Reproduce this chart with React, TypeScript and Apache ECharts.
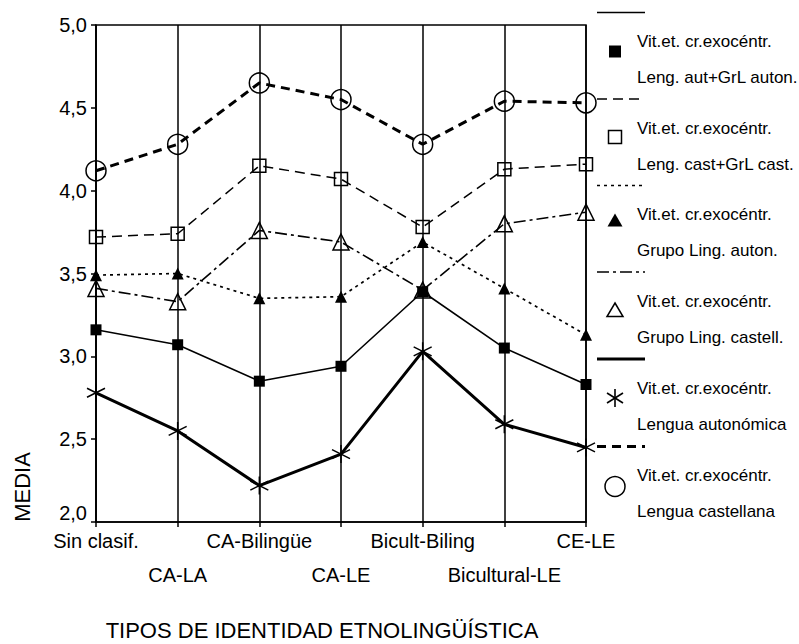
import React, { useEffect, useRef } from "react";
import * as echarts from "echarts";

const categories = ["Sin clasif.", "CA-LA", "CA-Bilingüe", "CA-LE", "Bicult-Biling", "Bicultural-LE", "CE-LE"];
const yTickLabels = ["2,0", "2,5", "3,0", "3,5", "4,0", "4,5", "5,0"];

const lengAutGrlAuton = [3.16, 3.07, 2.85, 2.94, 3.39, 3.05, 2.83];
const lengCastGrlCast = [3.72, 3.74, 4.15, 4.07, 3.78, 4.13, 4.16];
const grupoLingAuton = [3.49, 3.5, 3.35, 3.36, 3.69, 3.41, 3.13];
const grupoLingCastell = [3.41, 3.33, 3.76, 3.69, 3.4, 3.8, 3.87];
const lenguaAutonomica = [2.78, 2.55, 2.22, 2.41, 3.03, 2.59, 2.45];
const lenguaCastellana = [4.12, 4.28, 4.65, 4.55, 4.28, 4.54, 4.53];

const legendLine1 = "Vit.et. cr.exocéntr.";
const legendLine2 = [
  "Leng. aut+GrL auton.",
  "Leng. cast+GrL cast.",
  "Grupo Ling. auton.",
  "Grupo Ling. castell.",
  "Lengua autonómica",
  "Lengua castellana",
];

const xTitle = "TIPOS DE IDENTIDAD ETNOLINGÜÍSTICA";
const yTitle = "MEDIA";

const FONT = "'Liberation Sans', Arial, Helvetica, sans-serif";
const ASTERISK = "path://M10,0L10,20M1.34,5L18.66,15M1.34,15L18.66,5";

export default function App() {
  const ref = useRef<HTMLDivElement>(null);

  useEffect(() => {
    if (!ref.current) return;
    const chart = echarts.init(ref.current, undefined, { renderer: "svg" });

    const blk = "#000";
    const lineStyles: any[] = [
      { width: 1.6, type: "solid" },
      { width: 1.5, type: [10, 6] },
      { width: 1.7, type: [3, 4] },
      { width: 1.6, type: [12, 4, 3, 4] },
      { width: 3, type: "solid" },
      { width: 3, type: [9, 6] },
    ];

    const mk = (name: string, data: number[], idx: number, symbol: string, size: number, filled: boolean) => ({
      name,
      type: "line",
      data,
      symbol,
      symbolSize: size,
      lineStyle: { color: blk, ...lineStyles[idx] },
      itemStyle: filled
        ? { color: blk, borderColor: blk, borderWidth: 0 }
        : { color: "rgba(0,0,0,0)", borderColor: blk, borderWidth: 1.5 },
      z: 3,
    });

    const series = [
      mk(legendLine2[0], lengAutGrlAuton, 0, "rect", 11, true),
      mk(legendLine2[1], lengCastGrlCast, 1, "rect", 13, false),
      mk(legendLine2[2], grupoLingAuton, 2, "triangle", 12, true),
      mk(legendLine2[3], grupoLingCastell, 3, "triangle", 16, false),
      mk(legendLine2[4], lenguaAutonomica, 4, ASTERISK, 18, false),
      mk(legendLine2[5], lenguaCastellana, 5, "circle", 20, false),
    ];

    // legend drawn as graphic (peculiar layout: line sample above symbol + two-line label)
    const bases = [12.5, 99, 185.5, 272, 359, 446.5];
    const symOff = [39, 38, 35, 38, 39, 40];
    const graphics: any[] = [];
    bases.forEach((b, i) => {
      const ls = lineStyles[i];
      graphics.push({
        type: "line",
        shape: { x1: 597, y1: b, x2: 645, y2: b },
        style: { stroke: blk, lineWidth: ls.width, lineDash: Array.isArray(ls.type) ? ls.type : null },
      });
      const sy = b + symOff[i];
      const sx = 615;
      if (i === 0) {
        graphics.push({ type: "rect", shape: { x: sx - 6, y: sy - 6, width: 12, height: 12 }, style: { fill: blk } });
      } else if (i === 1) {
        graphics.push({ type: "rect", shape: { x: sx - 6.5, y: sy - 6.5, width: 13, height: 13 }, style: { fill: "none", stroke: blk, lineWidth: 1.5 } });
      } else if (i === 2) {
        graphics.push({ type: "polygon", shape: { points: [[sx, sy - 7], [sx + 7.5, sy + 6], [sx - 7.5, sy + 6]] }, style: { fill: blk } });
      } else if (i === 3) {
        graphics.push({ type: "polygon", shape: { points: [[sx, sy - 7], [sx + 8, sy + 6.5], [sx - 8, sy + 6.5]] }, style: { fill: "none", stroke: blk, lineWidth: 1.5 } });
      } else if (i === 4) {
        graphics.push({ type: "line", shape: { x1: sx, y1: sy - 9, x2: sx, y2: sy + 9 }, style: { stroke: blk, lineWidth: 1.6 } });
        graphics.push({ type: "line", shape: { x1: sx - 8, y1: sy - 5, x2: sx + 8, y2: sy + 5 }, style: { stroke: blk, lineWidth: 1.6 } });
        graphics.push({ type: "line", shape: { x1: sx - 8, y1: sy + 5, x2: sx + 8, y2: sy - 5 }, style: { stroke: blk, lineWidth: 1.6 } });
      } else {
        graphics.push({ type: "circle", shape: { cx: sx, cy: sy, r: 10 }, style: { fill: "none", stroke: blk, lineWidth: 1.5 } });
      }
      graphics.push({
        type: "text",
        x: 637,
        y: b + 29,
        style: { text: legendLine1, font: `17px ${FONT}`, fill: blk, verticalAlign: "middle", align: "left" },
      });
      graphics.push({
        type: "text",
        x: 637,
        y: b + 65,
        style: { text: legendLine2[i], font: `17px ${FONT}`, fill: blk, verticalAlign: "middle", align: "left" },
      });
    });

    graphics.push({
      type: "text",
      x: 322,
      y: 630,
      style: { text: xTitle, font: `22px ${FONT}`, fill: blk, align: "center", verticalAlign: "middle" },
    });
    graphics.push({
      type: "text",
      x: 22,
      y: 487,
      rotation: Math.PI / 2,
      style: { text: yTitle, font: `22px ${FONT}`, fill: blk, align: "center", verticalAlign: "middle" },
    });

    chart.setOption({
      animation: false,
      backgroundColor: "#fff",
      grid: {
        left: 96,
        right: 213,
        top: 25,
        bottom: 122,
        show: true,
        borderColor: blk,
        borderWidth: 1.5,
        containLabel: false,
      },
      xAxis: {
        type: "category",
        data: categories,
        boundaryGap: false,
        axisLine: { show: true, lineStyle: { color: blk, width: 1.5 } },
        axisTick: { show: true, length: 5, inside: false, alignWithLabel: true, lineStyle: { color: blk, width: 1.5 } },
        splitLine: { show: true, lineStyle: { color: blk, width: 1.5 } },
        axisLabel: {
          interval: 0,
          hideOverlap: false,
          margin: 2,
          color: blk,
          fontSize: 20,
          fontFamily: FONT,
          lineHeight: 34,
          formatter: (v: string, i: number) => (i % 2 === 1 ? "\n" + v : v),
        },
      },
      yAxis: {
        type: "value",
        min: 2,
        max: 5,
        interval: 0.5,
        axisLine: { show: true, lineStyle: { color: blk, width: 1.5 } },
        axisTick: { show: true, length: 5, lineStyle: { color: blk, width: 1.5 } },
        splitLine: { show: false },
        axisLabel: {
          margin: 9,
          color: blk,
          fontSize: 20,
          fontFamily: FONT,
          lineHeight: 18,
          formatter: (v: number) => {
            const idx = Math.round((v - 2) / 0.5);
            const t = yTickLabels[idx] ?? String(v);
            return idx === 0 ? t + "\n" : t;
          },
        },
      },
      graphic: graphics,
      series,
    });

    return () => chart.dispose();
  }, []);

  return (
    <div
      ref={ref}
      style={{ position: "fixed", left: 0, top: 0, width: 799, height: 644, background: "#fff" }}
    />
  );
}
